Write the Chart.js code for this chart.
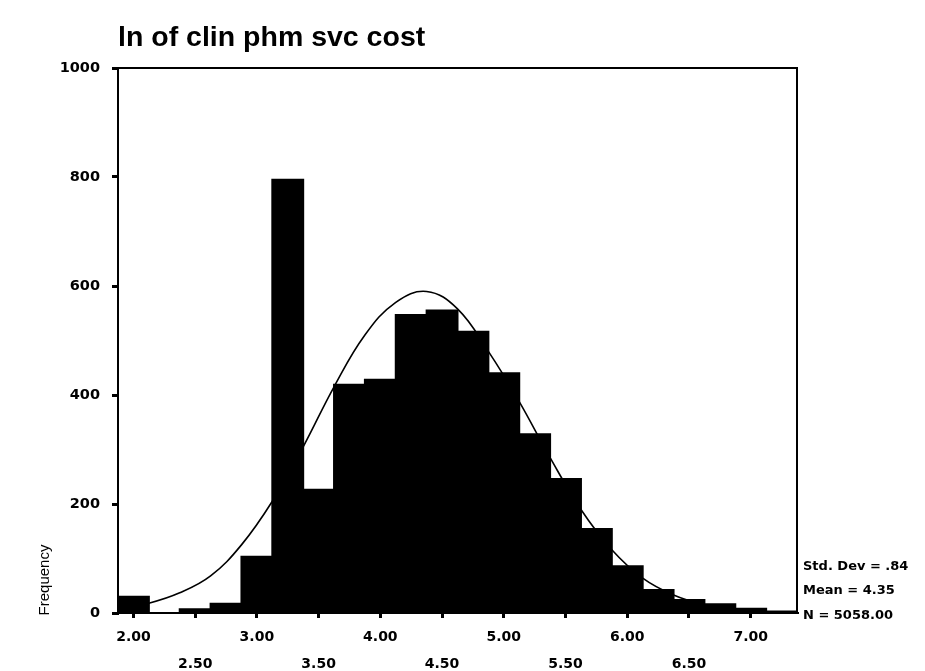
<!DOCTYPE html>
<html>
<head>
<meta charset="utf-8">
<script src="https://cdn.jsdelivr.net/npm/chart.js@4.4.1/dist/chart.umd.min.js"></script>
<style>
  html, body { margin: 0; padding: 0; background: #fff; }
  #wrap { width: 925px; height: 671px; position: relative; }
</style>
</head>
<body>
<div id="wrap"><canvas id="hist" width="925" height="671"></canvas></div>
<script>
// Histogram of the log cost, bins 0.25 wide
const binCenters  = [2.00, 2.25, 2.50, 2.75, 3.00, 3.25, 3.50, 3.75, 4.00, 4.25, 4.50,
                     4.75, 5.00, 5.25, 5.50, 5.75, 6.00, 6.25, 6.50, 6.75, 7.00, 7.25];
const frequencies = [30, 0, 7, 17, 103, 795, 226, 419, 428, 547, 555,
                     516, 440, 328, 246, 154, 86, 42, 24, 16, 8, 1];

// Fitted normal curve, sampled at the bin edges
const curveX = [1.875, 2.125, 2.375, 2.625, 2.875, 3.125, 3.375, 3.625, 3.875, 4.125, 4.375, 4.625,
                4.875, 5.125, 5.375, 5.625, 5.875, 6.125, 6.375, 6.625, 6.875, 7.125, 7.375];
const curveY = [8, 18, 37, 68, 125, 205, 305, 415, 510, 570, 590, 558,
                480, 388, 285, 190, 116, 64, 33, 15, 6, 2, 1];

const xTickValues = [2.0, 2.5, 3.0, 3.5, 4.0, 4.5, 5.0, 5.5, 6.0, 6.5, 7.0];
const xTickLabels = ['2.00', '2.50', '3.00', '3.50', '4.00', '4.50', '5.00', '5.50', '6.00', '6.50', '7.00'];

const titleText = 'ln of clin phm svc cost';
const yTitle = 'Frequency';
const statLines = ['Std. Dev = .84', 'Mean = 4.35', 'N = 5058.00'];

const decor = {
  id: 'decor',
  afterDatasetsDraw(chart) {
    const { ctx, chartArea: a } = chart;
    ctx.save();
    // box closing the plot on top and right
    ctx.strokeStyle = '#000';
    ctx.lineWidth = 2;
    ctx.beginPath();
    ctx.moveTo(a.left, a.top);
    ctx.lineTo(a.right, a.top);
    ctx.lineTo(a.right, a.bottom);
    ctx.stroke();
    ctx.restore();
  },
  afterDraw(chart) {
    const { ctx, chartArea: a } = chart;
    ctx.save();
    ctx.fillStyle = '#000';
    ctx.textBaseline = 'middle';
    ctx.textAlign = 'left';
    ctx.font = 'bold 28.5px "Liberation Sans", Arial, sans-serif';
    ctx.fillText(titleText, a.left, 38);

    ctx.font = 'bold 13px "DejaVu Sans", sans-serif';
    const ys = [567, 591, 616];
    statLines.forEach((s, i) => ctx.fillText(s, a.right + 6, ys[i]));

    ctx.translate(45, 580);
    ctx.rotate(-Math.PI / 2);
    ctx.textAlign = 'center';
    ctx.font = '15px "Liberation Sans", Arial, sans-serif';
    ctx.fillText(yTitle, 0, 0);
    ctx.restore();
  }
};

new Chart(document.getElementById('hist'), {
  type: 'bar',
  data: {
    datasets: [
      {
        type: 'line',
        data: curveX.map((x, i) => ({ x, y: curveY[i] })),
        borderColor: '#000',
        borderWidth: 1.6,
        pointRadius: 0,
        tension: 0.4,
        fill: false,
        order: 0
      },
      {
        type: 'bar',
        data: binCenters.map((x, i) => ({ x, y: frequencies[i] })),
        backgroundColor: '#000',
        borderWidth: 0,
        inflateAmount: 1,
        barPercentage: 1,
        categoryPercentage: 1,
        order: 1
      }
    ]
  },
  options: {
    responsive: false,
    animation: false,
    layout: { padding: { top: 68, right: 128, left: 0, bottom: 0 } },
    plugins: { legend: { display: false }, tooltip: { enabled: false }, title: { display: false } },
    scales: {
      x: {
        type: 'linear',
        offset: false,
        min: 1.875,
        max: 7.375,
        afterBuildTicks: s => { s.ticks = xTickValues.map(v => ({ value: v })); },
        afterFit: s => { s.height = 58; },
        border: { display: true, color: '#000', width: 2 },
        grid: { offset: false, drawOnChartArea: false, drawTicks: true, tickLength: 5, color: '#000', lineWidth: 3 },
        ticks: {
          color: '#000',
          maxRotation: 0,
          autoSkip: false,
          padding: 6,
          font: { family: '"DejaVu Sans", sans-serif', size: 14, weight: 'bold', lineHeight: 1.9 },
          callback: (v, i) => (i % 2 === 0 ? xTickLabels[i] : ['', xTickLabels[i]])
        }
      },
      y: {
        min: 0,
        max: 1000,
        afterFit: s => { s.width = 118; },
        border: { display: true, color: '#000', width: 2 },
        grid: { drawOnChartArea: false, drawTicks: true, tickLength: 6, color: '#000', lineWidth: 3 },
        ticks: {
          stepSize: 200,
          color: '#000',
          padding: 12,
          font: { family: '"DejaVu Sans", sans-serif', size: 14.5, weight: 'bold' },
          callback: v => String(v)
        }
      }
    }
  },
  plugins: [decor]
});
</script>
</body>
</html>
